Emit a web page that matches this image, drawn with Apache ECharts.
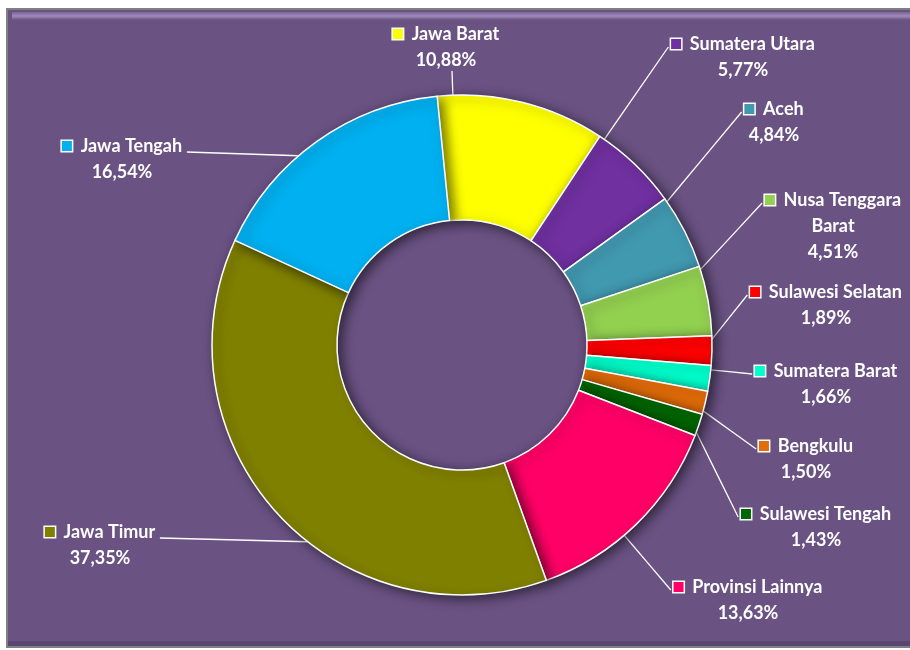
<!DOCTYPE html>
<html lang="id">
<head>
<meta charset="utf-8" />
<title>Provinsi</title>
<script src="https://cdn.jsdelivr.net/npm/echarts@6/dist/echarts.min.js"></script>
<style>
  html, body { margin: 0; padding: 0; background: #fff; }
  #chart { width: 910px; height: 650px; }
</style>
</head>
<body>
<div id="chart"></div>
<script>
// nama provinsi (urut searah jarum jam dari atas)
const provNames = ['Jawa Barat', 'Sumatera Utara', 'Aceh', 'Nusa Tenggara\nBarat', 'Sulawesi Selatan',
  'Sumatera Barat', 'Bengkulu', 'Sulawesi Tengah', 'Provinsi Lainnya', 'Jawa Timur', 'Jawa Tengah'];
// persentase
const provValues = [10.88, 5.77, 4.84, 4.51, 1.89, 1.66, 1.50, 1.43, 13.63, 37.35, 16.54];
const provColors = ['#ffff00', '#7030a0', '#4199b0', '#92d050', '#ff0000',
  '#00ffcc', '#e36c09', '#006600', '#ff0066', '#808000', '#00b0f0'];

// posisi tengah label (px)
const labelPos = [
  [446, 47], [743, 57], [774, 122], [833, 226], [826, 305],
  [826, 384], [806, 459], [816, 527], [748, 600], [100, 545], [122, 159]
];

const CX = 462, CY = 345, R_IN = 125, R_OUT = 250, START = 95.7, LINE_H = 26;

const chart = echarts.init(document.getElementById('chart'));

const rich = {};
provColors.forEach(function (c, i) {
  rich['m' + i] = { width: 10, height: 10, backgroundColor: c, borderColor: '#fff', borderWidth: 1.5 };
});
rich.t = { color: '#fff', fontSize: 18, fontWeight: 'bold', fontFamily: 'Lato', lineHeight: LINE_H };

const fmtPct = function (v) { return v.toFixed(2).replace('.', ',') + '%'; };

// sudut awal/akhir tiap irisan (derajat, berlawanan jarum jam dari sumbu x)
const total = provValues.reduce(function (a, b) { return a + b; }, 0);
const sliceAngles = [];
let acc = START;
provValues.forEach(function (v) {
  const sweep = v / total * 360;
  sliceAngles.push([acc - sweep, acc]);
  acc -= sweep;
});

// garis penunjuk: dari tepi label ke busur luar irisan
const leaderPoints = function (i, w) {
  const pos = labelPos[i];
  const h = (provNames[i].split('\n').length + 1) * LINE_H;
  const firstY = pos[1] - h / 2 + LINE_H / 2;
  let ax, ay, px, py;
  if (i !== 0 && pos[0] < CX) {
    // label kiri: garis hampir mendatar
    ax = pos[0] + w / 2 + 4; ay = firstY + 6;
    py = ay + 4;
    px = CX - Math.sqrt((R_OUT - 5) * (R_OUT - 5) - (CY - py) * (CY - py));
  } else {
    if (i === 0) { ax = pos[0] + 6; ay = pos[1] + h / 2 - 2; }
    else { ax = pos[0] - w / 2 - 2; ay = firstY + 3; }
    let th = Math.atan2(CY - ay, ax - CX) * 180 / Math.PI;
    const lo = sliceAngles[i][0], hi = sliceAngles[i][1];
    while (th < lo) th += 360;
    while (th > lo + 360) th -= 360;
    if (th > hi) th = (th - hi < lo + 360 - th) ? hi - 0.8 : lo + 0.8;
    th = Math.min(Math.max(th, lo + 0.8), hi - 0.8);
    const rad = th * Math.PI / 180;
    px = CX + R_OUT * Math.cos(rad); py = CY - R_OUT * Math.sin(rad);
  }
  return [[px, py], [(px + ax) / 2, (py + ay) / 2], [ax, ay]];
};

const option = {
  backgroundColor: '#fff',
  graphic: [{
    type: 'rect', z: -10,
    shape: { x: 7, y: 9, width: 910, height: 638 },
    style: { fill: '#6a5283', stroke: '#808080', lineWidth: 2 }
  }, {
    type: 'rect', z: -9,
    shape: { x: 12, y: 12, width: 900, height: 8 },
    style: {
      fill: new echarts.graphic.LinearGradient(0, 0, 0, 1, [
        { offset: 0, color: '#7a6394' }, { offset: 0.5, color: '#9f8bba' }, { offset: 1, color: '#6a5283' }
      ])
    }
  }, {
    type: 'rect', z: -9,
    shape: { x: 8, y: 641, width: 910, height: 5 },
    style: { fill: '#5b4572' }
  }],
  series: [{
    type: 'pie',
    center: [CX, CY],
    radius: [R_IN, R_OUT],
    startAngle: START,
    clockwise: true,
    avoidLabelOverlap: false,
    animation: false,
    itemStyle: {
      borderColor: '#fff',
      borderWidth: 1.5,
      shadowBlur: 12,
      shadowColor: 'rgba(0,0,0,0.55)',
      shadowOffsetX: 4,
      shadowOffsetY: 3
    },
    label: {
      show: true,
      position: 'outside',
      align: 'center',
      rich: rich,
      formatter: function (p) {
        const lines = p.name.split('\n');
        let s = '{m' + p.dataIndex + '|}{t|  ' + lines[0] + '}';
        for (let k = 1; k < lines.length; k++) s += '\n{t|' + lines[k] + '}';
        return s + '\n{t|' + fmtPct(p.value) + '}';
      }
    },
    labelLine: {
      show: true,
      length: 20,
      length2: 0,
      lineStyle: { color: '#fff', width: 1.3 }
    },
    labelLayout: function (params) {
      const i = params.dataIndex;
      const pos = labelPos[i];
      return {
        x: pos[0], y: pos[1], align: 'center', verticalAlign: 'middle',
        labelLinePoints: leaderPoints(i, params.labelRect.width)
      };
    },
    data: provNames.map(function (n, i) {
      return { name: n, value: provValues[i], itemStyle: { color: provColors[i] } };
    })
  }]
};

chart.setOption(option);
</script>
</body>
</html>
